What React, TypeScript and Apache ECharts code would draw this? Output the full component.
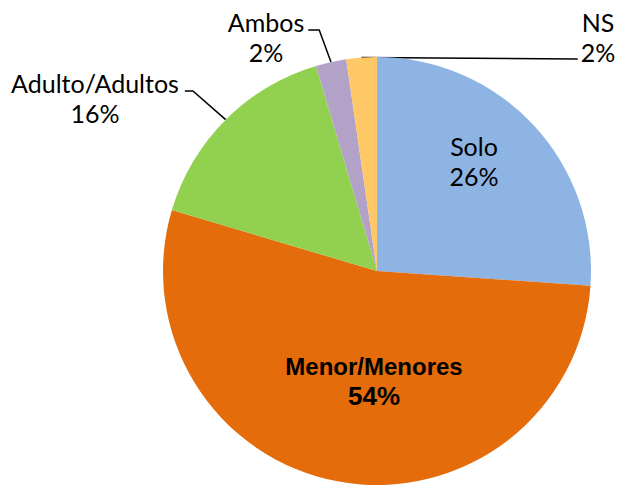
import React, { useEffect, useRef } from "react";
import * as echarts from "echarts";

const categories = ["Solo", "Menor/Menores", "Adulto/Adultos", "Ambos", "NS"];
const values = [26.1, 53.5, 15.8, 2.3, 2.3];
const colors = ["#8DB4E2", "#E46C0A", "#92D050", "#B3A2C7", "#FFC866"];

// label placement (layout only): centre of each label block
const labelPos: Record<string, { x: number; y: number }> = {
  "Solo": { x: 474, y: 161 },
  "Menor/Menores": { x: 374, y: 381 },
  "Adulto/Adultos": { x: 95, y: 98 },
  "Ambos": { x: 266, y: 37 },
  "NS": { x: 598, y: 37 },
};

export default function App() {
  const ref = useRef<HTMLDivElement>(null);
  useEffect(() => {
    if (!ref.current) return;
    const chart = echarts.init(ref.current, undefined, { renderer: "svg" });
    const data = categories.map((name, i) => {
      const inside = i < 2;
      return {
        name,
        value: values[i],
        itemStyle: { color: colors[i] },
        label: inside
          ? {
              position: "inside",
              ...(i === 1
                ? {
                    formatter: "{n|{b}}\n{p|{d}%}",
                    rich: {
                      n: { fontFamily: "Liberation Sans", fontWeight: "bold", fontSize: 24, lineHeight: 30, color: "#000" },
                      p: { fontFamily: "Liberation Sans", fontWeight: "bold", fontSize: 26, lineHeight: 30, color: "#000" },
                    },
                  }
                : {}),
            }
          : { position: "outside" },
        labelLine: { show: !inside },
      };
    });
    chart.setOption({
      animation: false,
      series: [
        {
          type: "pie",
          center: [377, 271],
          radius: 214,
          startAngle: 90,
          clockwise: true,
          percentPrecision: 0,
          avoidLabelOverlap: false,
          itemStyle: { borderWidth: 0 },
          emphasis: { disabled: true },
          label: {
            formatter: "{b}\n{d}%",
            fontFamily: "Lato",
            fontSize: 25,
            lineHeight: 30,
            color: "#000",
          },
          labelLine: {
            show: true,
            lineStyle: { color: "#000", width: 1.5 },
          },
          labelLayout: (params: any) => {
            const name = categories[params.dataIndex];
            const p = labelPos[name];
            const res: any = { x: p.x, y: p.y, align: "center", verticalAlign: "middle" };
            const w = params.labelRect ? params.labelRect.width : 0;
            const edge = params.labelLinePoints ? params.labelLinePoints[0] : null;
            if (edge) {
              if (name === "Adulto/Adultos") {
                const ex = p.x + w / 2 + 6;
                res.labelLinePoints = [edge, [ex + 8, p.y - 7], [ex, p.y - 7]];
              } else if (name === "Ambos") {
                const ex = p.x + w / 2 + 4;
                res.labelLinePoints = [edge, [ex + 11, p.y - 7], [ex, p.y - 7]];
              } else if (name === "NS") {
                const ex = p.x - w / 2 - 3;
                res.labelLinePoints = [edge, [ex - 2, p.y + 22], [ex, p.y + 22]];
              }
            }
            return res;
          },
          data,
        },
      ],
    });
    return () => chart.dispose();
  }, []);
  return (
    <div
      ref={ref}
      style={{ position: "fixed", left: 0, top: 0, width: 618, height: 487, background: "#fff" }}
    />
  );
}
